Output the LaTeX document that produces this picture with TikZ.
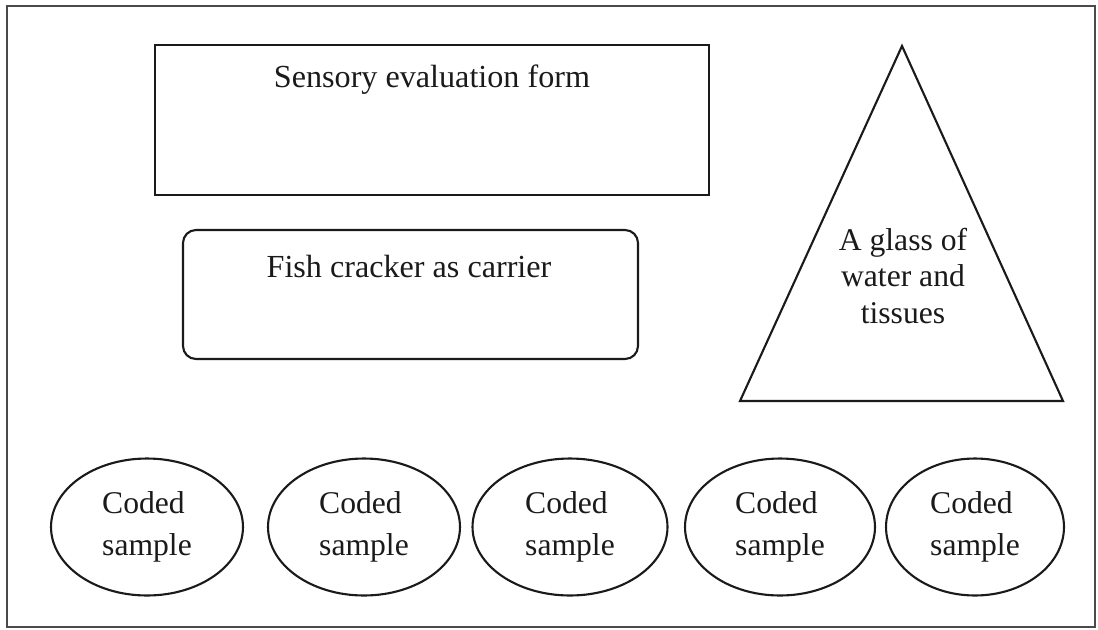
\documentclass[tikz,border=0pt]{standalone}
\usepackage{fontspec}
\setmainfont{Liberation Serif}
\usetikzlibrary{shapes.geometric}
\definecolor{frame}{HTML}{4A4A4A}
\definecolor{ink}{HTML}{1A1A1A}
\tikzset{
  box/.style={draw=ink, line width=1.2pt},
  lbl/.style={font=\fontsize{18.3}{21}\selectfont, text=ink, inner sep=0pt},
  tri/.style={font=\fontsize{18}{21}\selectfont, text=ink, inner sep=0pt, align=center},
  sample/.style={ellipse, draw=ink, line width=1.2pt, minimum height=2.74cm, inner sep=0pt,
    font=\fontsize{18}{24}\selectfont, text=ink, align=left}
}
\begin{document}
\begin{tikzpicture}[x=0.02cm,y=-0.02cm]
\useasboundingbox (0,0) rectangle (1098,629);
\draw[draw=frame, line width=1.4pt] (7,6) rectangle (1095,627);
% sensory evaluation form
\draw[box] (155,45) rectangle (709,195);
\node[lbl, anchor=base] (form) at (432,87) {Sensory evaluation form};
% fish cracker
\draw[box, rounded corners=0.26cm] (183,230) rectangle (638,359);
\node[lbl, anchor=base] (fish) at (409,277) {Fish cracker as carrier};
% triangle
\coordinate (tl) at (740,401);
\coordinate (tt) at (902,46);
\coordinate (tr) at (1063,401);
\draw[box, line join=miter] (tl) -- (tt) -- (tr) -- cycle;
\node[tri] (glass) at (903,276) {A glass of\\water and\\tissues};
% coded samples
\node[sample, minimum width=3.84cm] (s1) at (147,527) {Coded\\sample};
\node[sample, minimum width=3.84cm] (s2) at (364,527) {Coded\\sample};
\node[sample, minimum width=3.90cm] (s3) at (570,527) {Coded\\sample};
\node[sample, minimum width=3.80cm] (s4) at (780,527) {Coded\\sample};
\node[sample, minimum width=3.56cm] (s5) at (975,527) {Coded\\sample};
\end{tikzpicture}
\end{document}
